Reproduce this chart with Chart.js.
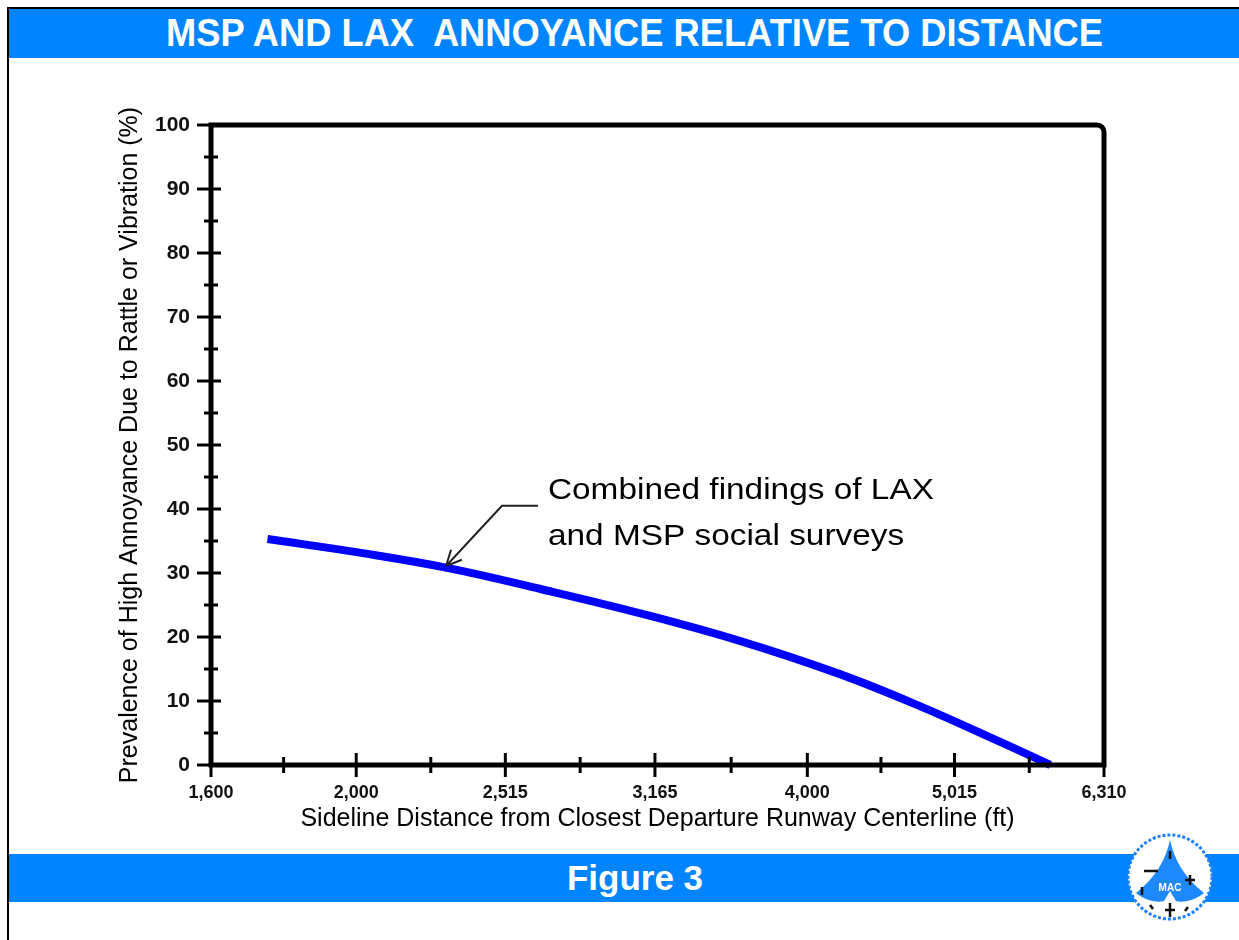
<!DOCTYPE html>
<html>
<head>
<meta charset="utf-8">
<script src="https://cdn.jsdelivr.net/npm/chart.js@4.4.1/dist/chart.umd.min.js"></script>
<style>
  html, body { margin: 0; padding: 0; background: #fff; }
  #page { position: relative; width: 1239px; height: 940px; overflow: hidden; font-family: Arial, 'Liberation Sans', sans-serif; }
  .rule-top { position: absolute; left: 7px; top: 7px; right: 0; height: 2px; background: #000; }
  .rule-left { position: absolute; left: 7px; top: 7px; width: 2px; bottom: 0; background: #000; }
  .band { position: absolute; left: 9px; right: 0; background: #0084ff; }
  #titleBand { top: 9px; height: 49px; }
  #figBand { top: 854px; height: 48px; }
  .bandText { position: absolute; left: 0; width: 1270px; text-align: center; color: #fff; font-weight: bold; white-space: nowrap; }
  .bandText span { display: inline-block; transform-origin: center; }
  #titleText { top: 9px; height: 49px; line-height: 49px; font-size: 38px; }
  #figText { top: 854px; height: 48px; line-height: 48px; font-size: 35px; }
  #chartWrap { position: absolute; left: 0; top: 0; width: 1239px; height: 940px; }
  #logo { position: absolute; left: 1124px; top: 831px; }
</style>
</head>
<body>
<div id="page">
  <div class="rule-top"></div>
  <div class="rule-left"></div>
  <div class="band" id="titleBand"></div>
  <div class="band" id="figBand"></div>
  <div class="bandText" id="titleText"><span id="titleSpan">MSP AND LAX&nbsp; ANNOYANCE RELATIVE TO DISTANCE</span></div>
  <div class="bandText" id="figText"><span>Figure 3</span></div>
  <div id="chartWrap"><canvas id="chart" width="1239" height="940"></canvas></div>
  <svg id="logo" width="92" height="92" viewBox="0 0 92 92">
    <circle cx="46" cy="46" r="42" fill="#fff" stroke="#1e80ff" stroke-width="3" stroke-dasharray="3 2"/>
    <path d="M46 9 C50 28 60 46 80 62 C70 70 58 72 52 70 L46 60 L40 70 C34 72 22 70 12 62 C32 46 42 28 46 9 Z" fill="#1e88ff"/>
    <text x="46" y="60" font-size="10" font-weight="bold" fill="#fff" text-anchor="middle" font-family="Arial">MAC</text>
    <path d="M20 40 h14 M46 20 v8 M66 44 v10 M61 49 h10 M46 72 v14 M41 79 h10 M18 56 v8 M26 74 l3 4 M64 76 l-3 4" stroke="#111" stroke-width="2.5"/>
  </svg>
</div>

<script>
// ---- data ----
const distanceFt   = [1745, 2020, 2300, 2655, 3095, 3605, 4205, 4755, 5380, 5810];
const annoyancePct = [35.3, 33.1, 30.8, 27.5, 23.7, 19.4, 14.2, 9.2, 3.6, 0];

const xTickValues = [1600, 2000, 2515, 3165, 4000, 5015, 6310];
const xTickLabels = ['1,600', '2,000', '2,515', '3,165', '4,000', '5,015', '6,310'];
const yTickLabels = ['0', '10', '20', '30', '40', '50', '60', '70', '80', '90', '100'];

const calloutLines = ['Combined findings of LAX', 'and MSP social surveys'];
const calloutX = 2685;
const calloutY = [42.9, 35.6];
const arrowPath = [[2645, 40.5], [2502, 40.5], [2296, 31.1]];

const FONT = 'Arial, "Liberation Sans", sans-serif';

// fit the condensed title into its width
(function () {
    const s = document.getElementById('titleSpan');
    const w = s.getBoundingClientRect().width;
    s.style.transform = 'scaleX(' + (937 / w) + ')';
})();

// frame, crossing tick marks and the callout
const framePlugin = {
    id: 'frame',
    afterDatasetsDraw(chart) {
        const { ctx, chartArea: a, scales: { x, y } } = chart;
        ctx.save();
        ctx.strokeStyle = '#000';

        // tick marks straddling the axes
        ctx.lineWidth = 3;
        y.ticks.forEach(t => {
            const py = y.getPixelForValue(t.value);
            const major = t.value % 10 === 0;
            ctx.beginPath();
            ctx.moveTo(a.left - (major ? 14 : 7), py);
            ctx.lineTo(a.left + (major ? 10 : 7), py);
            ctx.stroke();
        });
        x.ticks.forEach(t => {
            const px = x.getPixelForValue(t.value);
            const major = xTickValues.includes(t.value);
            ctx.beginPath();
            ctx.moveTo(px, a.bottom - (major ? 12 : 8));
            ctx.lineTo(px, a.bottom + (major ? 12 : 8));
            ctx.stroke();
        });

        // plot frame, rounded top-right corner
        const r = 7;
        ctx.lineWidth = 5;
        ctx.beginPath();
        ctx.moveTo(a.left, a.bottom);
        ctx.lineTo(a.left, a.top);
        ctx.lineTo(a.right - r, a.top);
        ctx.arcTo(a.right, a.top, a.right, a.top + r, r);
        ctx.lineTo(a.right, a.bottom);
        ctx.closePath();
        ctx.stroke();

        // callout text (the source lettering is wide, so stretch it a little)
        ctx.fillStyle = '#000';
        ctx.font = '30px ' + FONT;
        ctx.textAlign = 'left';
        ctx.textBaseline = 'middle';
        const sx = 386 / ctx.measureText(calloutLines[0]).width;
        const tx0 = x.getPixelForValue(calloutX);
        calloutLines.forEach((line, i) => {
            ctx.save();
            ctx.translate(tx0, y.getPixelForValue(calloutY[i]));
            ctx.scale(sx, 1);
            ctx.fillText(line, 0, 0);
            ctx.restore();
        });

        // callout arrow
        const pts = arrowPath.map(p => [x.getPixelForValue(p[0]), y.getPixelForValue(p[1])]);
        ctx.strokeStyle = '#222';
        ctx.lineWidth = 2;
        ctx.beginPath();
        ctx.moveTo(pts[0][0], pts[0][1]);
        pts.slice(1).forEach(p => ctx.lineTo(p[0], p[1]));
        ctx.stroke();
        const [hx, hy] = pts[pts.length - 1];
        const [px0, py0] = pts[pts.length - 2];
        const ang = Math.atan2(hy - py0, hx - px0);
        ctx.beginPath();
        [-0.45, 0.45].forEach(d => {
            ctx.moveTo(hx, hy);
            ctx.lineTo(hx - 17 * Math.cos(ang + d), hy - 17 * Math.sin(ang + d));
        });
        ctx.stroke();
        ctx.restore();
    }
};

new Chart(document.getElementById('chart'), {
    type: 'line',
    data: {
        datasets: [{
            data: distanceFt.map((d, i) => ({ x: d, y: annoyancePct[i] })),
            borderColor: '#0000ff',
            borderWidth: 8,
            borderCapStyle: 'butt',
            pointRadius: 0,
            tension: 0.4,
            clip: false
        }]
    },
    options: {
        responsive: false,
        animation: false,
        events: [],
        layout: { padding: { top: 125, right: 135, bottom: 105, left: 0 } },
        plugins: { legend: { display: false }, tooltip: { enabled: false } },
        scales: {
            x: {
                type: 'logarithmic',
                min: 1600,
                max: 6310,
                afterBuildTicks: s => {
                    const t = [];
                    xTickValues.forEach((v, i) => {
                        t.push({ value: v });
                        if (i < xTickValues.length - 1) t.push({ value: Math.sqrt(v * xTickValues[i + 1]) });
                    });
                    s.ticks = t;
                },
                afterFit: s => { s.height = 70; },
                grid: { display: false, drawTicks: false },
                border: { display: false },
                ticks: {
                    autoSkip: false,
                    maxRotation: 0,
                    padding: 17,
                    color: '#111',
                    font: { family: FONT, size: 18, weight: 'bold' },
                    callback: v => {
                        const k = xTickValues.indexOf(v);
                        return k >= 0 ? xTickLabels[k] : '';
                    }
                },
                title: {
                    display: true,
                    text: 'Sideline Distance from Closest Departure Runway Centerline (ft)',
                    color: '#000',
                    font: { family: FONT, size: 25 },
                    padding: { top: 0, bottom: 1 }
                }
            },
            y: {
                min: 0,
                max: 100,
                afterFit: s => { s.width = 211; },
                grid: { display: false, drawTicks: false },
                border: { display: false },
                ticks: {
                    stepSize: 5,
                    autoSkip: false,
                    padding: 21,
                    color: '#111',
                    font: { family: FONT, size: 21, weight: 'bold' },
                    callback: v => (v % 10 === 0 ? yTickLabels[v / 10] : '')
                },
                title: {
                    display: true,
                    text: 'Prevalence of High Annoyance Due to Rattle or Vibration (%)',
                    color: '#000',
                    font: { family: FONT, size: 25 },
                    padding: { top: 115, bottom: 0 }
                }
            }
        }
    },
    plugins: [framePlugin]
});
</script>
</body>
</html>
